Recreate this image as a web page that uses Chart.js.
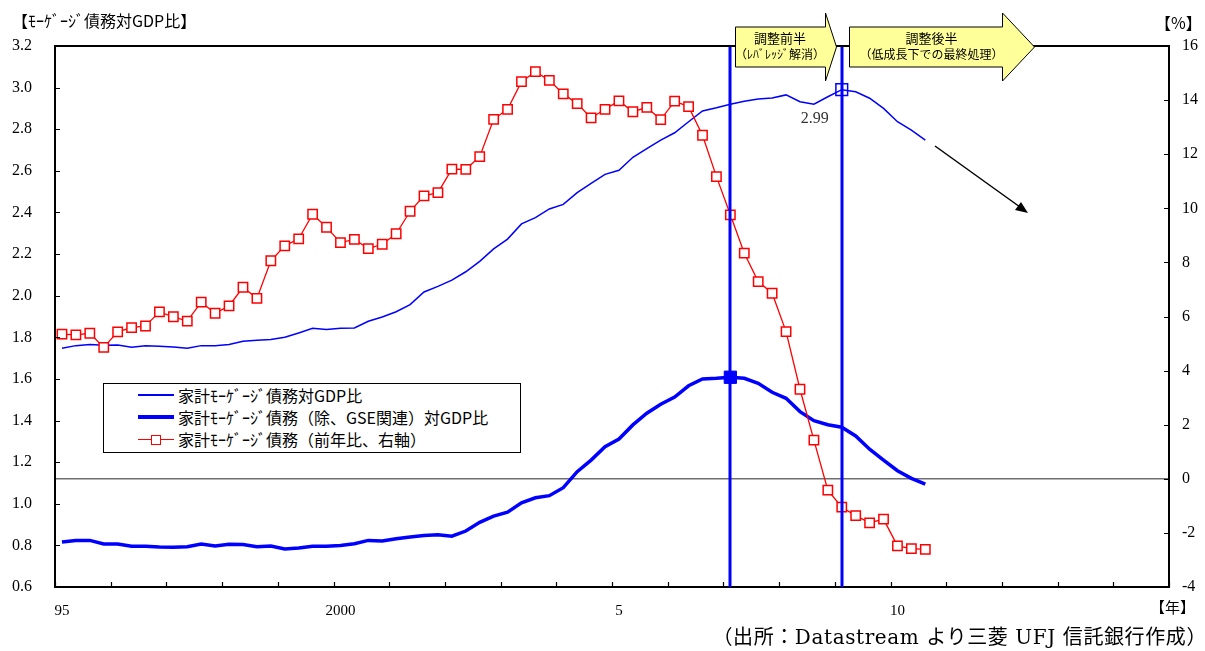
<!DOCTYPE html>
<html lang="ja">
<head>
<meta charset="utf-8">
<title>家計モーゲージ債務対GDP比</title>
<script src="https://cdn.jsdelivr.net/npm/chart.js@4.4.1/dist/chart.umd.min.js"></script>
<style>
    html, body { margin: 0; padding: 0; background: #fff; }
    #wrap { position: relative; width: 1205px; height: 651px; overflow: hidden; }
    #chart { position: absolute; left: 0; top: 0; }
    .t {
        position: absolute; white-space: nowrap; color: #000; line-height: 1;
        font-family: "Noto Sans CJK JP", sans-serif;
    }
    .src { font-family: "DejaVu Serif", "Noto Sans CJK JP", serif; letter-spacing: 0.6px; }
    .arrowText { text-align: center; font-size: 12px; line-height: 16px; }
    .arrowText b { font-weight: normal; font-size: 13px; }
    #legend {
        position: absolute; left: 103px; top: 383px; width: 418px; height: 70px;
        border: 1px solid #000; background: #fff; box-sizing: border-box;
    }
    #legend .row { position: absolute; left: 0; height: 20px; width: 100%; }
    #legend .sw { position: absolute; left: 34px; top: 9px; width: 36px; }
    #legend .sq {
        position: absolute; left: 13px; top: -5px; width: 8px; height: 8px;
        border: 1.5px solid #ff0000; background: #fff;
    }
    #legend .lab {
        position: absolute; left: 74px; top: 0px; font-size: 16px; line-height: 19px;
        font-family: "Noto Sans CJK JP", sans-serif; white-space: nowrap;
    }
</style>
</head>
<body>
<div id="wrap">
    <canvas id="chart" width="1205" height="651"></canvas>

    <div class="t" style="left:12px; top:12px; font-size:16px;">【ﾓｰｹﾞｰｼﾞ債務対GDP比】</div>
    <div class="t" style="left:1155px; top:14px; font-size:16px;">【%】</div>
    <div class="t" style="left:1150px; top:599px; font-size:15px;">【年】</div>
    <div class="t src" style="right:-2px; top:627px; font-size:20px;">（出所：Datastream より三菱 UFJ 信託銀行作成）</div>

    <div class="t arrowText" style="left:735px; top:30px; width:90px;"><b>調整前半</b><br>（ﾚﾊﾞﾚｯｼﾞ解消）</div>
    <div class="t arrowText" style="left:849px; top:30px; width:165px;"><b>調整後半</b><br>（低成長下での最終処理）</div>

    <div id="legend"></div>
</div>

<script>
// 四半期（1995年1Q～2014年4Q）
const quarterCount = 80;
const labelQuarters = [0, 20, 40, 60];
const yearLabels = ['95', '2000', '5', '10'];

// 系列名
const seriesNames = [
    '家計ﾓｰｹﾞｰｼﾞ債務対GDP比',
    '家計ﾓｰｹﾞｰｼﾞ債務（除、GSE関連）対GDP比',
    '家計ﾓｰｹﾞｰｼﾞ債務（前年比、右軸）'
];

// 家計モーゲージ債務対GDP比（左軸）
const mortgageGdp = [
    1.747, 1.760, 1.766, 1.762, 1.763, 1.752, 1.760, 1.757, 1.753, 1.747,
    1.760, 1.760, 1.765, 1.781, 1.786, 1.789, 1.800, 1.821, 1.843, 1.838,
    1.843, 1.845, 1.877, 1.898, 1.923, 1.957, 2.018, 2.045, 2.075, 2.115,
    2.165, 2.225, 2.272, 2.345, 2.375, 2.417, 2.439, 2.495, 2.540, 2.583,
    2.603, 2.665, 2.707, 2.748, 2.783, 2.836, 2.888, 2.903, 2.920, 2.934,
    2.945, 2.950, 2.965, 2.932, 2.920, 2.956, 2.990, 2.980, 2.949, 2.900,
    2.836, 2.796, 2.748
];

// 家計モーゲージ債務（除、GSE関連）対GDP比（左軸）
const mortgageExGse = [
    0.816, 0.824, 0.824, 0.807, 0.807, 0.796, 0.796, 0.792, 0.791, 0.794,
    0.807, 0.797, 0.805, 0.804, 0.794, 0.797, 0.783, 0.787, 0.796, 0.796,
    0.800, 0.808, 0.824, 0.821, 0.832, 0.840, 0.848, 0.851, 0.844, 0.869,
    0.911, 0.941, 0.960, 1.005, 1.029, 1.039, 1.077, 1.154, 1.210, 1.274,
    1.311, 1.379, 1.435, 1.478, 1.513, 1.567, 1.600, 1.603, 1.608, 1.603,
    1.579, 1.536, 1.507, 1.443, 1.399, 1.380, 1.368, 1.326, 1.262, 1.210,
    1.159, 1.122, 1.094
];

// 家計モーゲージ債務 前年比（右軸、%）
const mortgageYoy = [
    5.35, 5.32, 5.38, 4.86, 5.43, 5.59, 5.65, 6.17, 5.99, 5.83,
    6.53, 6.12, 6.39, 7.08, 6.67, 8.06, 8.61, 8.87, 9.78, 9.30,
    8.73, 8.85, 8.51, 8.67, 9.06, 9.89, 10.46, 10.58, 11.45, 11.44,
    11.91, 13.29, 13.66, 14.68, 15.05, 14.73, 14.23, 13.87, 13.34, 13.66,
    13.97, 13.57, 13.73, 13.28, 13.96, 13.76, 12.70, 11.17, 9.76, 8.34,
    7.29, 6.86, 5.44, 3.31, 1.43, -0.42, -1.05, -1.36, -1.63, -1.49,
    -2.48, -2.58, -2.61
];

// 調整局面の区切り（2007年1Q、2009年1Q）
const phaseQuarters = [48, 56];
const peakExGseIndex = 48;
const peakGdpIndex = 56;

const serifFont = '"Liberation Serif", "Noto Sans CJK JP", serif';

function toPoints(values) {
    return values.map((v, i) => ({ x: i + 0.5, y: v }));
}

// 目盛り・枠・矢印などの描画
const decorPlugin = {
    id: 'decor',
    afterDatasetsDraw(chart) {
        const ctx = chart.ctx;
        const area = chart.chartArea;
        const xs = chart.scales.x;
        ctx.save();
        ctx.strokeStyle = '#0000ff';
        ctx.lineWidth = 3;
        phaseQuarters.forEach(q => {
            const px = Math.round(xs.getPixelForValue(q + 0.5));
            ctx.beginPath();
            ctx.moveTo(px, area.top);
            ctx.lineTo(px, area.bottom);
            ctx.stroke();
        });
        ctx.restore();
    },
    afterDraw(chart) {
        const ctx = chart.ctx;
        const area = chart.chartArea;
        const xs = chart.scales.x, ys = chart.scales.y, ys2 = chart.scales.y2;
        ctx.save();

        // 枠（上辺）
        ctx.strokeStyle = '#000';
        ctx.lineWidth = 2;
        ctx.beginPath();
        ctx.moveTo(area.left, area.top);
        ctx.lineTo(area.right, area.top);
        ctx.stroke();

        // 内向きの目盛り
        ctx.lineWidth = 1.2;
        ctx.beginPath();
        xs.ticks.forEach(t => {
            const px = Math.round(xs.getPixelForValue(t.value)) + 0.5;
            ctx.moveTo(px, area.bottom);
            ctx.lineTo(px, area.bottom - 5);
        });
        ys.ticks.forEach(t => {
            const py = Math.round(ys.getPixelForValue(t.value)) + 0.5;
            ctx.moveTo(area.left, py);
            ctx.lineTo(area.left + 5, py);
        });
        ys2.ticks.forEach(t => {
            const py = Math.round(ys2.getPixelForValue(t.value)) + 0.5;
            ctx.moveTo(area.right, py);
            ctx.lineTo(area.right - 5, py);
        });
        ctx.stroke();

        // 黄色の矢印
        const yellowArrow = (x0, xHead, xTip) => {
            ctx.beginPath();
            ctx.moveTo(x0, 27);
            ctx.lineTo(xHead, 27);
            ctx.lineTo(xHead, 13);
            ctx.lineTo(xTip, 47);
            ctx.lineTo(xHead, 81);
            ctx.lineTo(xHead, 67);
            ctx.lineTo(x0, 67);
            ctx.closePath();
            ctx.fillStyle = '#ffff99';
            ctx.fill();
            ctx.strokeStyle = '#000';
            ctx.lineWidth = 1;
            ctx.stroke();
        };
        yellowArrow(735.5, 825.5, 836.5);
        yellowArrow(849.5, 1002.5, 1034.5);

        // 先行きの矢印
        ctx.strokeStyle = '#000';
        ctx.fillStyle = '#000';
        ctx.lineWidth = 1.5;
        ctx.beginPath();
        ctx.moveTo(935, 146);
        ctx.lineTo(1020, 207);
        ctx.stroke();
        ctx.beginPath();
        ctx.moveTo(1028, 213);
        ctx.lineTo(1015, 210);
        ctx.lineTo(1021, 202);
        ctx.closePath();
        ctx.fill();

        // ピーク値のラベル
        const pt = chart.getDatasetMeta(1).data[peakGdpIndex];
        ctx.fillStyle = '#333';
        ctx.font = '16px ' + serifFont;
        ctx.textAlign = 'center';
        ctx.textBaseline = 'middle';
        ctx.fillText(mortgageGdp[peakGdpIndex].toFixed(2), pt.x - 27, pt.y + 29);

        ctx.restore();
    }
};

const chart = new Chart(document.getElementById('chart'), {
    type: 'line',
    data: {
        datasets: [{
            label: seriesNames[2],
            data: toPoints(mortgageYoy),
            yAxisID: 'y2',
            order: 0,
            borderColor: '#ff0000',
            borderWidth: 1.3,
            pointStyle: 'rect',
            pointRadius: 6.6,
            pointBackgroundColor: '#ffffff',
            pointBorderColor: '#ff0000',
            pointBorderWidth: 1.5
        }, {
            label: seriesNames[0],
            data: toPoints(mortgageGdp),
            yAxisID: 'y',
            order: 1,
            borderColor: '#0000ff',
            borderWidth: 1.5,
            pointStyle: 'rect',
            pointRadius: c => c.dataIndex === peakGdpIndex ? 8.3 : 0,
            pointBackgroundColor: 'rgba(255,255,255,0)',
            pointBorderColor: '#0000ff',
            pointBorderWidth: 1.5
        }, {
            label: seriesNames[1],
            data: toPoints(mortgageExGse),
            yAxisID: 'y',
            order: 2,
            borderColor: '#0000ff',
            borderWidth: 3.5,
            pointStyle: 'rect',
            pointRadius: c => c.dataIndex === peakExGseIndex ? 8.7 : 0,
            pointBackgroundColor: '#0000ff',
            pointBorderColor: '#0000ff',
            pointBorderWidth: 1
        }]
    },
    options: {
        responsive: false,
        animation: false,
        devicePixelRatio: 1,
        layout: { padding: { top: 46, left: 0, right: 0, bottom: 0 } },
        elements: { line: { tension: 0 } },
        plugins: {
            legend: { display: false },
            tooltip: { enabled: false }
        },
        scales: {
            x: {
                type: 'linear',
                min: 0,
                max: quarterCount,
                grid: { display: false },
                border: { display: true, color: '#000', width: 2 },
                ticks: {
                    stepSize: 4,
                    autoSkip: false,
                    maxRotation: 0,
                    labelOffset: 7,
                    padding: 7,
                    color: '#000',
                    font: { family: serifFont, size: 15 },
                    callback: v => {
                        const k = labelQuarters.indexOf(v);
                        return k >= 0 ? yearLabels[k] : '';
                    }
                },
                afterFit: s => { s.height = 64; }
            },
            y: {
                position: 'left',
                min: 0.6,
                max: 3.2,
                grid: { display: false },
                border: { display: true, color: '#000', width: 2 },
                ticks: {
                    stepSize: 0.2,
                    padding: 15,
                    color: '#000',
                    font: { family: serifFont, size: 16 },
                    callback: v => v.toFixed(1)
                },
                afterFit: s => { s.width = 55; }
            },
            y2: {
                position: 'right',
                min: -4,
                max: 16,
                grid: {
                    drawOnChartArea: true,
                    drawTicks: false,
                    lineWidth: 1.5,
                    color: c => c.tick && c.tick.value === 0 ? '#6e6e6e' : 'rgba(0,0,0,0)'
                },
                border: { display: true, color: '#000', width: 2 },
                ticks: {
                    stepSize: 2,
                    padding: 13,
                    color: '#000',
                    font: { family: serifFont, size: 16 }
                },
                afterFit: s => { s.width = 36; }
            }
        }
    },
    plugins: [decorPlugin]
});

// 凡例
const legendBox = document.getElementById('legend');
const legendOrder = [1, 2, 0];
legendOrder.forEach((di, row) => {
    const ds = chart.data.datasets[di];
    const r = document.createElement('div');
    r.className = 'row';
    r.style.top = (2 + row * 22) + 'px';
    const sw = document.createElement('div');
    sw.className = 'sw';
    sw.style.borderTop = Math.round(ds.borderWidth) + 'px solid ' + ds.borderColor;
    sw.style.marginTop = (-Math.round(ds.borderWidth) / 2) + 'px';
    if (ds.pointStyle === 'rect' && typeof ds.pointRadius === 'number') {
        const sq = document.createElement('div');
        sq.className = 'sq';
        sw.appendChild(sq);
    }
    const lab = document.createElement('div');
    lab.className = 'lab';
    lab.textContent = ds.label;
    r.appendChild(sw);
    r.appendChild(lab);
    legendBox.appendChild(r);
});
</script>
</body>
</html>
